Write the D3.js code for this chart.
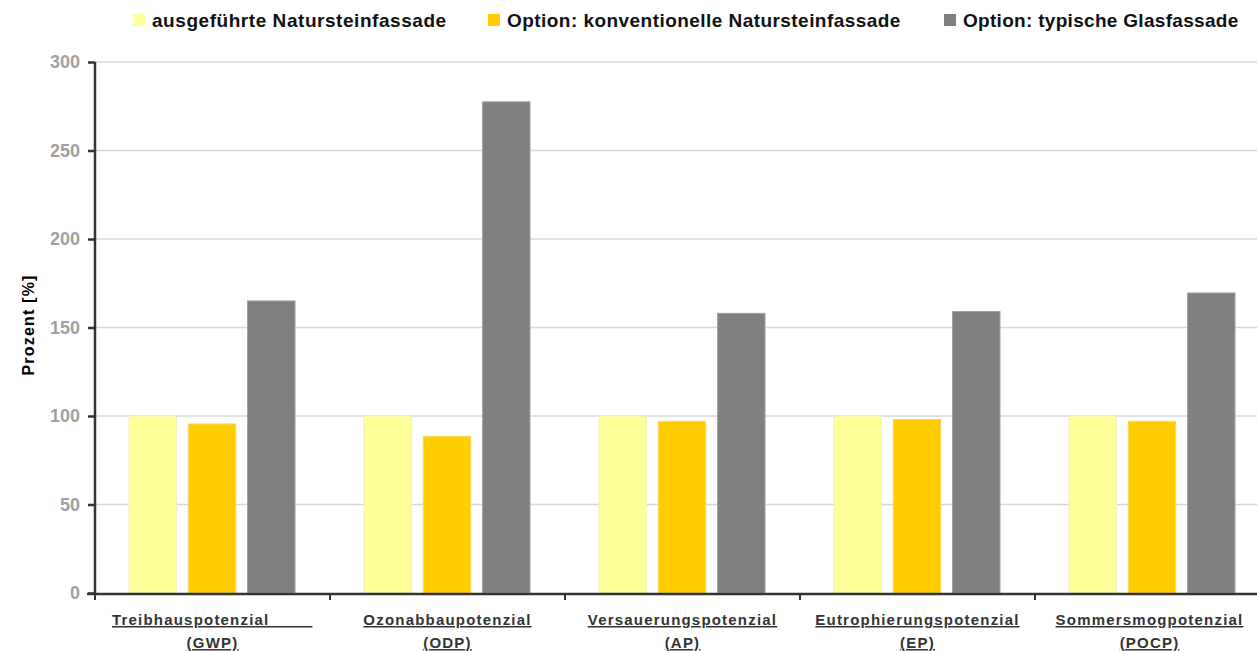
<!DOCTYPE html>
<html><head><meta charset="utf-8">
<script src="https://cdn.jsdelivr.net/npm/d3@7"></script>
<style>body{margin:0;background:#fff;} svg{display:block;font-family:"Liberation Sans",Arial,sans-serif;}</style>
</head><body>
<svg id="c" width="1257" height="651"></svg>
<script>
const categories = [["Treibhauspotenzial\u00a0\u00a0\u00a0\u00a0\u00a0\u00a0\u00a0\u00a0","(GWP)"],["Ozonabbaupotenzial","(ODP)"],["Versauerungspotenzial","(AP)"],["Eutrophierungspotenzial","(EP)"],["Sommersmogpotenzial","(POCP)"]];
const seriesNames = ["ausgeführte Natursteinfassade","Option: konventionelle Natursteinfassade","Option: typische Glasfassade"];
const ausgefuehrt = [100,100,100,100,100];
const konventionell = [95.5,88.5,97,98,97];
const glas = [165,277.5,158,159,169.5];
const yTicks = [0,50,100,150,200,250,300];
const colors = ["#FFFF99","#FFCC00","#808080"];
const strokes = ["#f0f0c0","#f5d860","#a0a0a0"];

const svg = d3.select("#c");
const x0 = 95, x1 = 1270, yTop = 62, yBot = 593;
const x = d3.scaleBand().domain(d3.range(categories.length)).range([x0, x1]);
const y = d3.scaleLinear().domain([0,300]).range([yBot, yTop]);
const series = [ausgefuehrt, konventionell, glas];

// grid
svg.append("g").selectAll("line").data(yTicks.filter(t=>t>0)).join("line")
  .attr("x1", x0).attr("x2", 1257).attr("y1", d=>y(d)).attr("y2", d=>y(d))
  .attr("stroke","#d8d8d8").attr("stroke-width",1.5);

// bars
const inner = d3.scaleBand().domain([0,1,2]).range([34, 200]).paddingInner(0.2);
series.forEach((vals, si) => {
  svg.append("g").selectAll("rect").data(vals).join("rect")
    .attr("x", (d,i)=>x(i)+inner(si))
    .attr("y", d=>y(d))
    .attr("width", inner.bandwidth())
    .attr("height", d=>yBot - y(d))
    .attr("fill", colors[si])
    .attr("stroke", strokes[si]).attr("stroke-width",1);
});

// y axis
const yAxis = d3.axisLeft(y).tickValues(yTicks).tickSize(7).tickPadding(8);
const ya = svg.append("g").attr("transform",`translate(${x0},0)`).call(yAxis);
ya.select(".domain").attr("stroke","#333").attr("stroke-width",2.5).attr("d",`M0,${yTop}V${yBot}`);
ya.selectAll(".tick line").attr("stroke","#333").attr("stroke-width",2.5);
ya.selectAll(".tick text").attr("fill","#a0a0a0").attr("font-size",18).attr("font-weight","bold")
  .attr("font-family","Liberation Sans, Arial, sans-serif");

// x axis
const xa = svg.append("g");
xa.append("line").attr("x1",x0-8).attr("x2",1257).attr("y1",yBot+1).attr("y2",yBot+1).attr("stroke","#333").attr("stroke-width",2.5);
xa.selectAll("line.t").data(d3.range(categories.length+1)).join("line").attr("class","t")
  .attr("x1",d=>x0+d*x.bandwidth()).attr("x2",d=>x0+d*x.bandwidth())
  .attr("y1",yBot).attr("y2",yBot+7).attr("stroke","#333").attr("stroke-width",2);

categories.forEach((c,i)=>{
  const cx = x(i) + x.bandwidth()/2 - (i===4 ? 3 : 0);
  c.forEach((line,li)=>{
    const isFirst = (i===0 && li===0);
    svg.append("text").attr("x", isFirst ? 112 : cx).attr("y",625+li*23)
      .attr("text-anchor", isFirst ? "start" : "middle")
      .attr("font-size",15).attr("font-weight","bold").attr("fill","#333")
      .attr("text-decoration","underline").attr("letter-spacing",1.2).text(line);
  });
});

// y title
svg.append("text").attr("transform","translate(34,325) rotate(-90)").attr("text-anchor","middle")
  .attr("font-size",16).attr("font-weight","bold").attr("fill","#000").attr("letter-spacing",1.2).text("Prozent [%]");

// legend
const legX = [133,488,944];
const legSpacing = [0.55,0.45,0.3];
seriesNames.forEach((n,i)=>{
  svg.append("rect").attr("x",legX[i]).attr("y",14).attr("width",12).attr("height",12).attr("fill",colors[i]);
  svg.append("text").attr("x",legX[i]+19).attr("y",27).attr("font-size",19).attr("font-weight","bold")
    .attr("fill","#111").attr("letter-spacing",legSpacing[i]).text(n);
});
</script>
</body></html>
